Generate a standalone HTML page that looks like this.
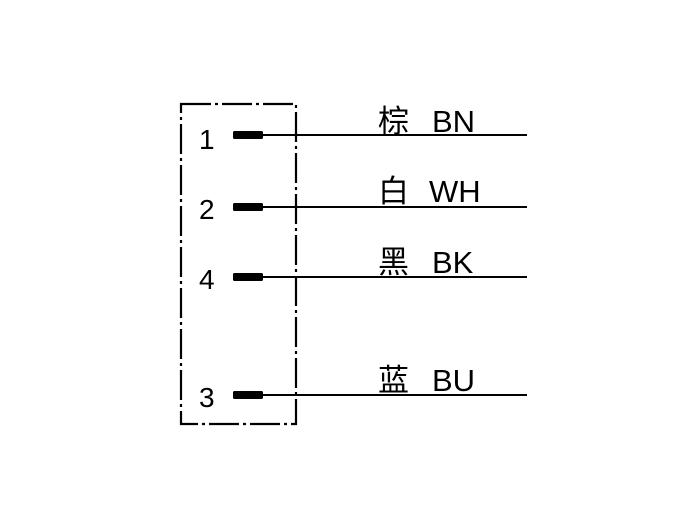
<!DOCTYPE html>
<html><head><meta charset="utf-8"><style>
html,body{margin:0;padding:0;background:#fff;}
svg{display:block}
text{font-family:"Liberation Sans","Noto Sans CJK SC",sans-serif;fill:#000}
</style></head><body>
<svg width="691" height="516" viewBox="0 0 691 516">
<rect x="181" y="104" width="115" height="320" fill="none" stroke="#000" stroke-width="2.2" stroke-dasharray="30 4 3 4"/>
<g stroke="#000" stroke-width="2">
<line x1="262" y1="135" x2="527" y2="135"/>
<line x1="262" y1="207" x2="527" y2="207"/>
<line x1="262" y1="277" x2="527" y2="277"/>
<line x1="262" y1="395" x2="527" y2="395"/>
</g>
<g fill="#000">
<rect x="233" y="131" width="30" height="8" rx="1.5"/>
<rect x="233" y="203" width="30" height="8" rx="1.5"/>
<rect x="233" y="273" width="30" height="8" rx="1.5"/>
<rect x="233" y="391" width="30" height="8" rx="1.5"/>
</g>
<g font-size="28">
<text x="199" y="149">1</text>
<text x="199" y="219">2</text>
<text x="199" y="289">4</text>
<text x="199" y="407">3</text>
</g>
<g font-size="31">
<text x="378" y="132">棕</text><text x="432" y="132">BN</text>
<text x="378" y="202">白</text><text x="429" y="202">WH</text>
<text x="378" y="273">黑</text><text x="432" y="273">BK</text>
<text x="378" y="391">蓝</text><text x="432" y="391">BU</text>
</g>
</svg>
</body></html>
